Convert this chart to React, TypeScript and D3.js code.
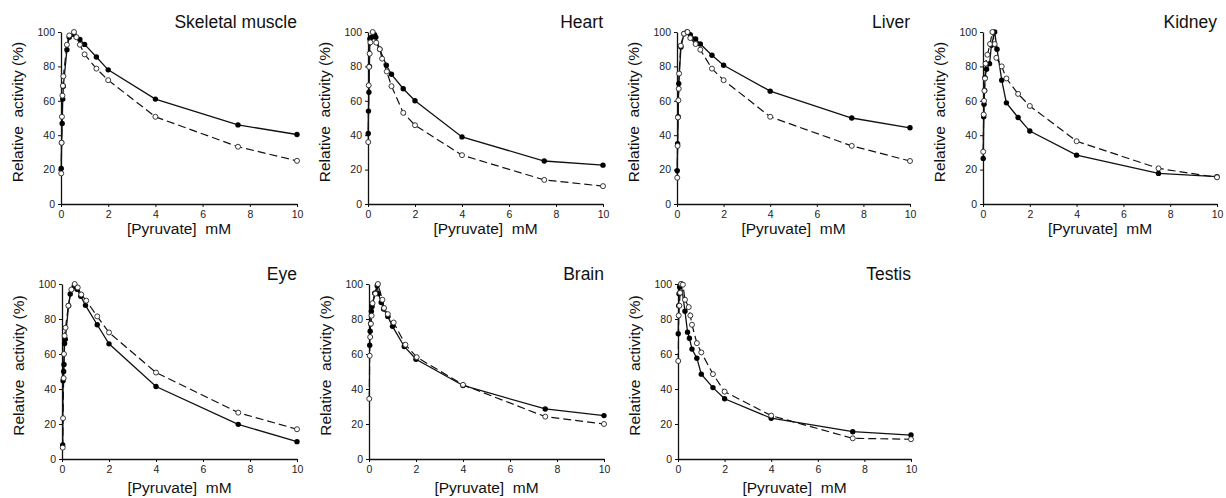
import { useEffect, useRef } from "react";
import * as d3 from "d3";

// [pyruvate mM, relative activity %]
const skeletalFilled = [[0.01, 20.7], [0.025, 35.6], [0.05, 46.8], [0.075, 61], [0.1, 68.5], [0.25, 89.7], [0.35, 97], [0.55, 98.5], [0.8, 95.7], [1, 92.8], [1.5, 85.5], [2, 78], [4, 61], [7.5, 46], [10, 40.4]];
const skeletalOpen = [[0.01, 17.8], [0.025, 35.6], [0.04, 50.7], [0.06, 63], [0.08, 68.7], [0.1, 74.3], [0.25, 92.6], [0.35, 98], [0.55, 100], [0.65, 97], [0.8, 92.6], [1, 87], [1.5, 78.7], [2, 72], [4, 50.7], [7.5, 33.3], [10, 25.1]];

const heartFilled = [[0.01, 41], [0.02, 54], [0.04, 65], [0.06, 80], [0.08, 96], [0.15, 97], [0.28, 98.5], [0.33, 97], [0.5, 90], [0.78, 80.7], [1, 75.4], [1.5, 67], [2, 60], [4, 39], [7.5, 25], [10, 22.6]];
const heartOpen = [[0.01, 36], [0.03, 69], [0.05, 79.7], [0.07, 87.4], [0.1, 94], [0.2, 100], [0.35, 93.8], [0.5, 90], [0.6, 84.5], [0.8, 77], [1, 68.5], [1.5, 53], [2, 45.8], [4, 28.4], [7.5, 14], [10, 10.4]];

const liverFilled = [[0.01, 19.3], [0.025, 35], [0.05, 50.7], [0.075, 70], [0.17, 91.3], [0.3, 99], [0.43, 100], [0.57, 98.5], [0.8, 96], [1, 93], [1.5, 86.5], [2, 80.7], [4, 65.6], [7.5, 50], [10, 44.3]];
const liverOpen = [[0.01, 15.3], [0.025, 33.8], [0.04, 50.3], [0.06, 60.3], [0.075, 67], [0.09, 75.8], [0.16, 92], [0.3, 99], [0.45, 100], [0.57, 96.5], [0.8, 93], [1, 89.7], [1.5, 78.7], [2, 72], [4, 50.7], [7.5, 33.8], [10, 25]];

const kidneyFilled = [[0.01, 26.5], [0.03, 50.7], [0.045, 58], [0.07, 66], [0.085, 73.5], [0.15, 78.3], [0.28, 81.6], [0.36, 92.3], [0.5, 100], [0.6, 90], [0.8, 72], [1, 58.8], [1.5, 50.3], [2, 42.4], [4, 28.4], [7.5, 17.8], [10, 15.9]];
const kidneyOpen = [[0.01, 30.4], [0.03, 52], [0.045, 60], [0.06, 65.8], [0.085, 73], [0.11, 81.6], [0.19, 86.8], [0.3, 93], [0.4, 100], [0.5, 93], [0.57, 85], [0.8, 80], [1, 73], [1.5, 64], [2, 57], [4, 36.5], [7.5, 20.7], [10, 15.5]];

const eyeFilled = [[0.03, 8], [0.045, 44.7], [0.07, 50], [0.085, 54], [0.11, 66], [0.14, 68.5], [0.28, 87.6], [0.35, 94.3], [0.52, 98.7], [0.64, 97], [0.8, 93], [1, 87.8], [1.5, 76.7], [2, 65.8], [4, 41.4], [7.5, 19.8], [10, 9.9]];
const eyeOpen = [[0.03, 6.5], [0.045, 23.3], [0.07, 46.2], [0.085, 60], [0.11, 70.4], [0.15, 75], [0.27, 87.6], [0.4, 96.8], [0.54, 100], [0.67, 98], [0.82, 94], [1.03, 90.5], [1.5, 81.5], [2, 72.3], [4, 49.4], [7.5, 26.5], [10, 17]];

const brainFilled = [[0.03, 65], [0.05, 73], [0.07, 77.3], [0.1, 84.4], [0.13, 87.2], [0.24, 94.8], [0.35, 99], [0.4, 94.5], [0.52, 89.5], [0.62, 85.7], [0.8, 81.5], [1, 75.8], [1.5, 64.3], [2, 57], [4, 42], [7.5, 28.6], [10, 24.8]];
const brainOpen = [[0.01, 34.4], [0.03, 59], [0.05, 69.7], [0.08, 77.3], [0.11, 81.9], [0.15, 89], [0.27, 94.5], [0.38, 100], [0.57, 91], [0.64, 86.3], [0.8, 82.8], [1.05, 78], [1.55, 65.3], [2.03, 58.2], [4, 42.4], [7.5, 24.2], [10, 20]];

const testisFilled = [[0.01, 71.6], [0.03, 87.6], [0.045, 94.5], [0.07, 98.3], [0.14, 100], [0.3, 84.4], [0.41, 72.5], [0.49, 69], [0.6, 62.8], [0.81, 57.6], [1, 48.5], [1.5, 40.8], [2, 34.4], [4, 23.3], [7.5, 15.6], [10, 13.7]];
const testisOpen = [[0.01, 56], [0.03, 82], [0.06, 87.6], [0.09, 95], [0.13, 100], [0.21, 99.6], [0.3, 91], [0.46, 86.8], [0.53, 82], [0.6, 76.7], [0.81, 66.2], [1, 60.9], [1.5, 48.5], [2, 38.5], [4, 24.8], [7.5, 11.8], [10, 11.3]];

const tissues = ["Skeletal muscle", "Heart", "Liver", "Kidney", "Eye", "Brain", "Testis"];
const filledSeries = [skeletalFilled, heartFilled, liverFilled, kidneyFilled, eyeFilled, brainFilled, testisFilled];
const openSeries = [skeletalOpen, heartOpen, liverOpen, kidneyOpen, eyeOpen, brainOpen, testisOpen];

const xTicks = [0, 2, 4, 6, 8, 10];
const yTicks = [0, 20, 40, 60, 80, 100];

// panel frames (px)
const panelLeft = [61, 368, 677, 983, 62, 369, 678];
const panelRight = [297, 603, 910, 1217, 297, 604, 911];
const panelTop = [32, 32, 32, 32, 284, 284, 284];
const panelBottom = [204, 204, 204, 204, 459, 459, 459];
const xLabelGap = [30, 30, 30, 30, 34, 34, 34];

const FONT = "'Liberation Sans', Arial, sans-serif";

const App = () => {
  const svgRef = useRef<SVGSVGElement>(null);

  useEffect(() => {
    const svg = d3.select(svgRef.current);
    svg.selectAll("*").remove();

    tissues.forEach((name, i) => {
      const x = d3.scaleLinear().domain([0, 10]).range([panelLeft[i], panelRight[i]]);
      const y = d3.scaleLinear().domain([0, 100]).range([panelBottom[i], panelTop[i]]);
      const g = svg.append("g");

      const xAxis = g
        .append("g")
        .attr("transform", `translate(0,${panelBottom[i]})`)
        .call(d3.axisBottom(x).tickValues(xTicks).tickSize(3).tickSizeOuter(0).tickPadding(4));
      const yAxis = g
        .append("g")
        .attr("transform", `translate(${panelLeft[i]},0)`)
        .call(d3.axisLeft(y).tickValues(yTicks).tickSize(3).tickSizeOuter(0).tickPadding(3));

      [xAxis, yAxis].forEach((a) => {
        a.select(".domain").attr("stroke", "#111").attr("stroke-width", 1.3);
        a.selectAll(".tick line").attr("stroke", "#111");
        a.selectAll(".tick text")
          .attr("fill", "#222")
          .style("font-family", FONT)
          .style("font-size", "10.5px");
      });

      const line = d3
        .line<number[]>()
        .x((d) => x(d[0]))
        .y((d) => y(d[1]));

      g.append("path")
        .datum(openSeries[i])
        .attr("d", line)
        .attr("fill", "none")
        .attr("stroke", "#111")
        .attr("stroke-width", 1.2)
        .attr("stroke-dasharray", "8,4");

      g.append("path")
        .datum(filledSeries[i])
        .attr("d", line)
        .attr("fill", "none")
        .attr("stroke", "#111")
        .attr("stroke-width", 1.3);

      g.selectAll(".pf")
        .data(filledSeries[i])
        .enter()
        .append("circle")
        .attr("cx", (d) => x(d[0]))
        .attr("cy", (d) => y(d[1]))
        .attr("r", 2.7)
        .attr("fill", "#000");

      g.selectAll(".po")
        .data(openSeries[i])
        .enter()
        .append("circle")
        .attr("cx", (d) => x(d[0]))
        .attr("cy", (d) => y(d[1]))
        .attr("r", 2.5)
        .attr("fill", "#fff")
        .attr("stroke", "#222")
        .attr("stroke-width", 0.9);

      const midX = (panelLeft[i] + panelRight[i]) / 2;
      const midY = (panelTop[i] + panelBottom[i]) / 2;

      g.append("text")
        .attr("x", panelRight[i])
        .attr("y", panelTop[i] - 4)
        .attr("text-anchor", "end")
        .style("font-family", FONT)
        .style("font-size", "17.5px")
        .attr("fill", "#111")
        .text(name);

      g.append("text")
        .attr("x", midX)
        .attr("y", panelBottom[i] + xLabelGap[i])
        .attr("text-anchor", "middle")
        .style("font-family", FONT)
        .style("font-size", "15.5px")
        .attr("fill", "#111")
        .attr("xml:space", "preserve")
        .text("[Pyruvate]  mM");

      g.append("text")
        .attr("transform", `translate(${panelLeft[i] - 38},${midY - 6}) rotate(-90)`)
        .attr("text-anchor", "middle")
        .style("font-family", FONT)
        .style("font-size", "15.5px")
        .attr("fill", "#111")
        .attr("xml:space", "preserve")
        .text("Relative  activity (%)");
    });
  }, []);

  return (
    <svg
      ref={svgRef}
      width={1226}
      height={498}
      style={{ position: "absolute", left: 0, top: 0, background: "#fff" }}
    ></svg>
  );
};

export default App;
